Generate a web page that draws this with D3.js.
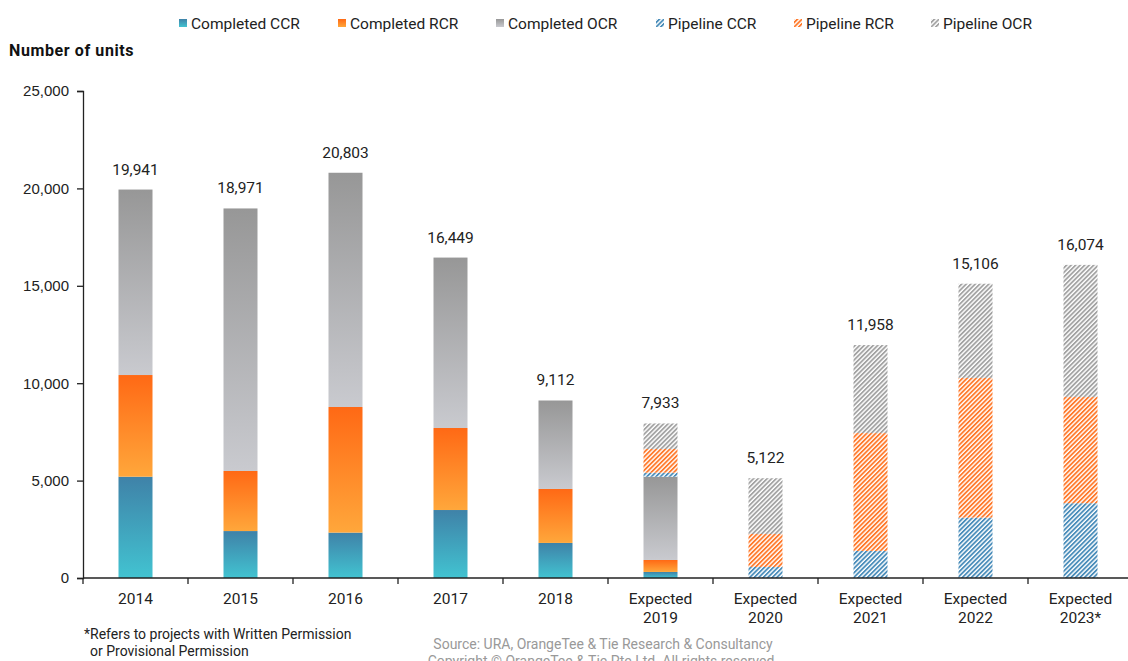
<!doctype html>
<html lang="en">
<head>
<meta charset="utf-8"/>
<title>Number of units</title>
<style>
  body { margin: 0; background: #fff; }
  svg { font-family: Roboto, "Noto Sans", sans-serif; }
  .tick text { font-size: 15px; fill: #222; }
</style>
<script src="https://d3js.org/d3.v7.min.js"></script>
</head>
<body>
<svg width="1128" height="661"></svg>
<script>
// data
var categories = ["2014", "2015", "2016", "2017", "2018",
    "Expected 2019", "Expected 2020", "Expected 2021", "Expected 2022", "Expected 2023*"];
var completedCCR = [5200, 2410, 2330, 3490, 1800, 310, 0, 0, 0, 0];
var completedRCR = [5220, 3083, 6448, 4210, 2770, 615, 0, 0, 0, 0];
var completedOCR = [9521, 13478, 12025, 8749, 4542, 4275, 0, 0, 0, 0];
var pipelineCCR = [0, 0, 0, 0, 0, 205, 565, 1390, 3100, 3840];
var pipelineRCR = [0, 0, 0, 0, 0, 1217, 1694, 6050, 7170, 5450];
var pipelineOCR = [0, 0, 0, 0, 0, 1311, 2863, 4518, 4836, 6784];
var totals = [19941, 18971, 20803, 16449, 9112, 7933, 5122, 11958, 15106, 16074];
var yTicks = [0, 5000, 10000, 15000, 20000, 25000];

var keys = ["Completed CCR", "Completed RCR", "Completed OCR", "Pipeline CCR", "Pipeline RCR", "Pipeline OCR"];
var series = [completedCCR, completedRCR, completedOCR, pipelineCCR, pipelineRCR, pipelineOCR];

var rows = categories.map(function(c, i) {
    var r = { cat: c };
    keys.forEach(function(k, j) { r[k] = series[j][i]; });
    return r;
});

var svg = d3.select("svg");
var x = d3.scaleBand().domain(categories).range([83, 1133]);
var y = d3.scaleLinear().domain([0, 25000]).range([578, 91]);
var barW = 34;

// fills: gradients for completed, hatching for pipeline
var defs = svg.append("defs");
var grads = [
    { id: "gCCR", top: "#3f82a8", bottom: "#42c3d1" },
    { id: "gRCR", top: "#ff6915", bottom: "#ffa73b" },
    { id: "gOCR", top: "#979797", bottom: "#c9cacf" }
];
grads.forEach(function(g) {
    var lg = defs.append("linearGradient").attr("id", g.id)
        .attr("x1", 0).attr("y1", 0).attr("x2", 0).attr("y2", 1);
    lg.append("stop").attr("offset", "0%").attr("stop-color", g.top);
    lg.append("stop").attr("offset", "100%").attr("stop-color", g.bottom);
});
var hatches = [
    { id: "pCCR", color: "#4a8dba" },
    { id: "pRCR", color: "#ff7a2c" },
    { id: "pOCR", color: "#a3a3a3" }
];
hatches.forEach(function(h) {
    var p = defs.append("pattern").attr("id", h.id)
        .attr("patternUnits", "userSpaceOnUse")
        .attr("width", 3.2).attr("height", 3.2)
        .attr("patternTransform", "rotate(45)");
    p.append("rect").attr("width", 3.2).attr("height", 3.2).attr("fill", "#fff");
    p.append("rect").attr("width", 1.8).attr("height", 3.2).attr("fill", h.color);
});
var fills = ["url(#gCCR)", "url(#gRCR)", "url(#gOCR)", "url(#pCCR)", "url(#pRCR)", "url(#pOCR)"];

var stack = d3.stack().keys(keys)(rows);

svg.append("g").selectAll("g")
    .data(stack)
    .enter().append("g")
    .attr("fill", function(d, i) { return fills[i]; })
    .selectAll("rect")
    .data(function(d) { return d.filter(function(s) { return s[1] > s[0]; }); })
    .enter().append("rect")
    .attr("x", function(d) { return x(d.data.cat) + x.bandwidth() / 2 - barW / 2; })
    .attr("y", function(d) { return y(d[1]); })
    .attr("width", barW)
    .attr("height", function(d) { return y(d[0]) - y(d[1]); });

// totals above bars
svg.append("g").selectAll("text")
    .data(categories)
    .enter().append("text")
    .attr("x", function(c) { return x(c) + x.bandwidth() / 2; })
    .attr("y", function(c, i) { return y(totals[i]) - 15; })
    .attr("text-anchor", "middle")
    .attr("font-size", "15.5px")
    .attr("fill", "#222")
    .text(function(c, i) { return d3.format(",")(totals[i]); });

// y axis
var yAxis = svg.append("g")
    .attr("transform", "translate(83,0)")
    .call(d3.axisLeft(y).tickValues(yTicks).tickFormat(d3.format(",")).tickSize(6).tickPadding(8));
yAxis.select(".domain").attr("stroke", "#222").attr("stroke-width", 1.3);
yAxis.selectAll(".tick line").attr("stroke", "#222").attr("stroke-width", 1.3);

// x axis line with ticks on category boundaries
var xg = svg.append("g");
xg.append("line")
    .attr("x1", 83).attr("x2", 1133)
    .attr("y1", y(0)).attr("y2", y(0))
    .attr("stroke", "#222").attr("stroke-width", 1.6);
xg.selectAll(".bt")
    .data(categories)
    .enter().append("line")
    .attr("x1", function(c) { return x(c); })
    .attr("x2", function(c) { return x(c); })
    .attr("y1", y(0)).attr("y2", y(0) + 6)
    .attr("stroke", "#222").attr("stroke-width", 1.3);
var xl = xg.selectAll(".xl")
    .data(categories)
    .enter().append("text")
    .attr("text-anchor", "middle")
    .attr("font-size", "15.5px")
    .attr("fill", "#222");
xl.each(function(c) {
    var parts = c.split(" ");
    var t = d3.select(this);
    parts.forEach(function(p, i) {
        t.append("tspan")
            .attr("x", x(c) + x.bandwidth() / 2)
            .attr("y", 604 + i * 19)
            .text(p);
    });
});

// title
svg.append("text")
    .attr("x", 9).attr("y", 56)
    .attr("font-size", "16px")
    .attr("font-weight", "bold")
    .attr("letter-spacing", "0.6px")
    .attr("fill", "#111")
    .text("Number of units");

// legend
var legendX = [191, 350, 508, 668, 806, 943];
var lg = svg.append("g").selectAll("g")
    .data(keys)
    .enter().append("g")
    .attr("transform", function(k, i) { return "translate(" + legendX[i] + ",23)"; });
lg.append("rect")
    .attr("x", -12).attr("y", -4)
    .attr("width", 8).attr("height", 8)
    .attr("fill", function(k, i) { return fills[i]; });
lg.append("text")
    .attr("x", 0).attr("y", 6)
    .attr("font-size", "15.5px")
    .attr("fill", "#222")
    .text(function(k) { return k; });

// footnote and source
svg.append("text")
    .attr("x", 84).attr("y", 639)
    .attr("font-size", "14px").attr("fill", "#222")
    .text("*Refers to projects with Written Permission");
svg.append("text")
    .attr("x", 90).attr("y", 656)
    .attr("font-size", "14px").attr("fill", "#222")
    .text("or Provisional Permission");
svg.append("text")
    .attr("x", 603).attr("y", 649)
    .attr("text-anchor", "middle")
    .attr("font-size", "14px").attr("fill", "#999")
    .text("Source: URA, OrangeTee & Tie Research & Consultancy");
svg.append("text")
    .attr("x", 601).attr("y", 666)
    .attr("text-anchor", "middle")
    .attr("font-size", "14px").attr("fill", "#999")
    .text("Copyright \u00a9 OrangeTee & Tie Pte Ltd. All rights reserved");
</script>
</body>
</html>
